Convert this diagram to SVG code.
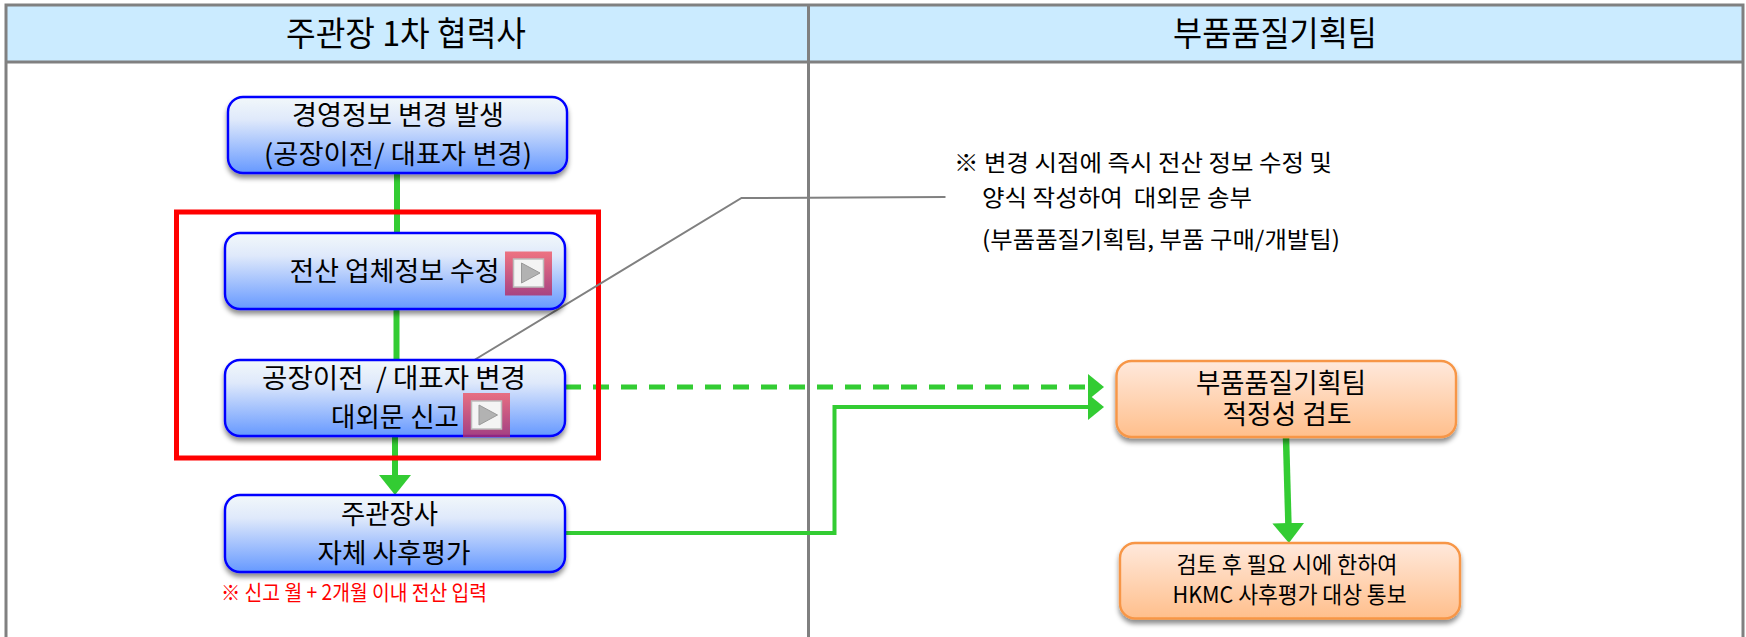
<svg xmlns="http://www.w3.org/2000/svg" width="1746" height="637" viewBox="0 0 1746 637">
<style>
text{font-family:"Noto Sans CJK KR","Noto Sans",sans-serif;fill:#000;text-anchor:middle;white-space:pre}
.h{font-size:34px}.n{font-size:27px}.s{font-size:23px}.l{text-anchor:start}.red{fill:#f00;font-size:21px}
.lane{fill:none;stroke:#808080;stroke-width:3}
.blue{fill:url(#gb);stroke:#0000ff;stroke-width:2.4;filter:url(#sh)}
.orange{fill:url(#go);stroke:#f79646;stroke-width:2.4;filter:url(#sh)}
.g{fill:none;stroke:#33cc33;stroke-width:6}
.btn{fill:#f4f4f4;stroke:#bdbdbd;stroke-width:1.5}
.tri{fill:#b2b2b2;stroke:#999;stroke-width:1}
.pink{fill:url(#gp)}
</style>
<defs>
<linearGradient id="gb" x1="0" y1="0" x2="0" y2="1"><stop offset="0" stop-color="#f2f8fa"/><stop offset=".3" stop-color="#dfe9fb"/><stop offset="1" stop-color="#6699ff"/></linearGradient>
<linearGradient id="go" x1="0" y1="0" x2="0" y2="1"><stop offset="0" stop-color="#ffe9dc"/><stop offset="1" stop-color="#ffbf8c"/></linearGradient>
<linearGradient id="gp" x1="0" y1="0" x2="0" y2="1"><stop offset="0" stop-color="#f0505f" stop-opacity=".78"/><stop offset="1" stop-color="#b02c68" stop-opacity=".82"/></linearGradient>
<filter id="sh" x="-5%" y="-10%" width="110%" height="130%"><feDropShadow dx="0" dy="4" stdDeviation="2.5" flood-color="#000" flood-opacity=".45"/></filter>
<marker id="av" markerUnits="userSpaceOnUse" viewBox="0 0 20 32" refX="1" refY="16" markerWidth="20" markerHeight="32" orient="auto"><path d="M0 0L20 16L0 32Z" fill="#33cc33"/></marker>
<marker id="ah" markerUnits="userSpaceOnUse" viewBox="0 0 16 26" refX="1" refY="13" markerWidth="16" markerHeight="26" orient="auto"><path d="M0 0L16 13L0 26Z" fill="#33cc33"/></marker>
</defs>
<g id="lanes">
<rect x="6" y="5" width="1737" height="57" fill="#cbebff"/>
<path class="lane" d="M6 700V5H1743V700M808.5 5V700M6 62H1743"/>
<text class="h" x="406" y="46" textLength="240" lengthAdjust="spacingAndGlyphs">주관장 1차 협력사</text>
<text class="h" x="1275" y="46" textLength="204" lengthAdjust="spacingAndGlyphs">부품품질기획팀</text>
</g>
<g id="connectors">
<path class="g" d="M397 173V233"/>
<path class="g" d="M396.5 309V360"/>
<path class="g" d="M395 436V476" marker-end="url(#av)"/>
<path class="g" style="stroke-width:5" d="M565 387H1089" stroke-dasharray="16 12"/>
<path d="M1088 374L1104 387L1088 400Z" fill="#33cc33"/>
<path class="g" style="stroke-width:4" d="M565 533H834.5V407H1089" marker-end="url(#ah)"/>
<path class="g" style="stroke-width:6.5" d="M1286 437L1288.4 524" marker-end="url(#av)"/>
</g>
<g id="highlight"><rect x="176.5" y="212" width="422" height="246" fill="none" stroke="#ff0000" stroke-width="5"/></g>
<g id="leader"><path d="M471 362L741.5 198L945.5 197" fill="none" stroke="#808080" stroke-width="2"/></g>
<g id="node-report-event">
<rect class="blue" x="228" y="97" width="339" height="76" rx="15"/>
<text class="n" x="398" y="125" textLength="212" lengthAdjust="spacingAndGlyphs">경영정보 변경 발생</text>
<text class="n" x="398" y="164" textLength="268" lengthAdjust="spacingAndGlyphs">(공장이전/ 대표자 변경)</text>
</g>
<g id="node-edit-info">
<rect class="blue" x="225" y="233" width="340" height="76" rx="15"/>
<text class="n" x="394.5" y="281" textLength="210" lengthAdjust="spacingAndGlyphs">전산 업체정보 수정</text>
</g>
<g id="node-report">
<rect class="blue" x="225" y="360" width="340" height="76" rx="15"/>
<text class="n" x="394" y="388" textLength="264" lengthAdjust="spacingAndGlyphs">공장이전  / 대표자 변경</text>
<text class="n" x="395" y="427" textLength="128" lengthAdjust="spacingAndGlyphs">대외문 신고</text>
</g>
<g id="node-self-eval">
<rect class="blue" x="225" y="495" width="340" height="77" rx="15"/>
<text class="n" x="389.5" y="524" textLength="97" lengthAdjust="spacingAndGlyphs">주관장사</text>
<text class="n" x="394" y="563" textLength="153" lengthAdjust="spacingAndGlyphs">자체 사후평가</text>
</g>
<g id="note-red"><text class="red l" x="221" y="600" textLength="266" lengthAdjust="spacingAndGlyphs">※ 신고 월 + 2개월 이내 전산 입력</text></g>
<g id="icon-edit">
<rect class="pink" x="505" y="251.5" width="47" height="44"/>
<rect class="btn" x="513.5" y="259" width="30" height="28"/>
<path class="tri" d="M521.5 263L540 273L521.5 283Z"/>
</g>
<g id="icon-report">
<rect class="pink" x="463" y="393" width="47" height="44"/>
<rect class="btn" x="471.5" y="401" width="30" height="28"/>
<path class="tri" d="M479 405L497.5 415L479 425Z"/>
</g>
<g id="note-right">
<text class="s l" x="954" y="171" textLength="378" lengthAdjust="spacingAndGlyphs">※ 변경 시점에 즉시 전산 정보 수정 및</text>
<text class="s l" x="982" y="206" textLength="270" lengthAdjust="spacingAndGlyphs">양식 작성하여  대외문 송부</text>
<text class="s l" x="982" y="248" textLength="358" lengthAdjust="spacingAndGlyphs">(부품품질기획팀, 부품 구매/개발팀)</text>
</g>
<g id="node-review">
<rect class="orange" x="1116.5" y="361" width="339.5" height="76" rx="15"/>
<text class="n" x="1281" y="393" textLength="170" lengthAdjust="spacingAndGlyphs">부품품질기획팀</text>
<text class="n" x="1287" y="424" textLength="129" lengthAdjust="spacingAndGlyphs">적정성 검토</text>
</g>
<g id="node-notify">
<rect class="orange" x="1120" y="543" width="340" height="75.5" rx="15"/>
<text class="s" x="1287" y="573" textLength="221" lengthAdjust="spacingAndGlyphs">검토 후 필요 시에 한하여</text>
<text class="s" x="1289.5" y="603" textLength="234" lengthAdjust="spacingAndGlyphs">HKMC 사후평가 대상 통보</text>
</g>
</svg>
